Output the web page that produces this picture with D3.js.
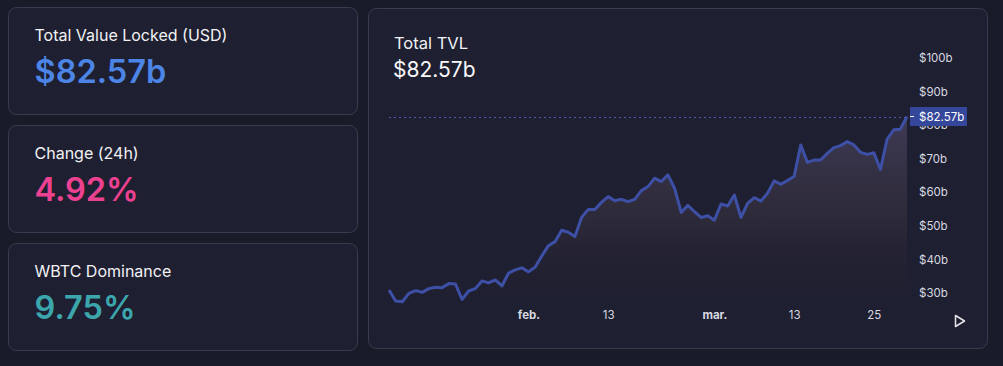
<!DOCTYPE html>
<html>
<head>
<meta charset="utf-8">
<script src="https://cdn.jsdelivr.net/npm/d3@7"></script>
<style>
  html, body { margin: 0; padding: 0; background: #1a1b28; }
  svg { display: block; font-family: Inter, "Noto Sans", sans-serif; }
</style>
</head>
<body>
<div id="chart"></div>
<script>
'use strict';

// daily TVL (USD, billions), 11 jan -> 30 mar
var startDate = new Date(2021, 0, 11);
var endDate = new Date(2021, 2, 30);
var tvlValues = [
  30.9, 27.6, 27.4, 29.9, 30.7, 30.2, 31.3, 31.7, 31.6, 32.8,
  32.7, 28.1, 30.6, 31.3, 33.6, 33.0, 33.9, 32.1, 35.9, 36.9,
  37.5, 36.3, 37.7, 41.0, 44.1, 45.3, 48.7, 48.1, 46.8, 52.5,
  54.9, 54.9, 57.0, 58.7, 57.5, 57.9, 57.2, 57.9, 60.5, 61.7,
  64.2, 63.2, 65.2, 61.2, 54.0, 56.1, 54.2, 52.5, 53.0, 51.7,
  56.5, 55.9, 59.2, 52.5, 56.7, 58.4, 57.4, 59.7, 63.4, 62.4,
  63.5, 64.7, 74.1, 68.9, 69.6, 69.6, 71.6, 73.3, 73.9, 75.1,
  74.1, 71.9, 71.3, 71.8, 66.8, 75.8, 78.6, 78.8, 82.57
];
var yTicks = [30, 40, 50, 60, 70, 80, 90, 100];
var xTickDates = [new Date(2021, 1, 1), new Date(2021, 1, 13), new Date(2021, 2, 1), new Date(2021, 2, 13), new Date(2021, 2, 25)];
var xTickLabels = ['feb.', '13', 'mar.', '13', '25'];

var statTitles = ['Total Value Locked (USD)', 'Change (24h)', 'WBTC Dominance'];
var statValues = ['$82.57b', '4.92%', '9.75%'];
var statColors = ['#4c85e6', '#ec4190', '#3ca6ad'];

var W = 1003, H = 366;
var fmtB = function(v) { return '$' + v + 'b'; };

var svg = d3.select('#chart').append('svg')
  .attr('width', W)
  .attr('height', H);

var defs = svg.append('defs');
var grad = defs.append('linearGradient')
  .attr('id', 'areaGrad')
  .attr('gradientUnits', 'userSpaceOnUse')
  .attr('x1', 0).attr('x2', 0)
  .attr('y1', 115).attr('y2', 300);
grad.append('stop').attr('offset', '0%').attr('stop-color', '#4a4463').attr('stop-opacity', 0.75);
grad.append('stop').attr('offset', '55%').attr('stop-color', '#3a3340').attr('stop-opacity', 0.55);
grad.append('stop').attr('offset', '100%').attr('stop-color', '#2a2330').attr('stop-opacity', 0);

svg.append('rect')
  .attr('width', W).attr('height', H)
  .attr('fill', '#1a1b28');

// stat cards
var cards = svg.selectAll('g.card')
  .data(statTitles)
  .enter()
  .append('g')
  .attr('class', 'card')
  .attr('transform', function(d, i) { return 'translate(8.5,' + (7.5 + i * 118) + ')'; });

cards.append('rect')
  .attr('width', 349).attr('height', 107)
  .attr('rx', 8)
  .attr('fill', '#1e1f30')
  .attr('stroke', '#393c50');

cards.append('text')
  .attr('x', 26).attr('y', 33)
  .attr('fill', '#f2f2f5')
  .attr('font-size', 16)
  .text(function(d) { return d; });

cards.append('text')
  .attr('x', 26).attr('y', 75.5)
  .attr('fill', function(d, i) { return statColors[i]; })
  .attr('font-size', 32.5)
  .attr('font-weight', 600)
  .text(function(d, i) { return statValues[i]; });

// chart panel
svg.append('rect')
  .attr('x', 368.5).attr('y', 8.5)
  .attr('width', 619).attr('height', 340)
  .attr('rx', 8)
  .attr('fill', '#1e1f30')
  .attr('stroke', '#393c50');

svg.append('text')
  .attr('x', 394).attr('y', 48.5)
  .attr('fill', '#f2f2f5')
  .attr('font-size', 16.5)
  .text('Total TVL');

svg.append('text')
  .attr('x', 393).attr('y', 77)
  .attr('fill', '#f7f7f9')
  .attr('font-size', 21)
  .text(fmtB(tvlValues[tvlValues.length - 1]));

var dates = d3.timeDay.range(startDate, d3.timeDay.offset(endDate, 1));
var data = dates.map(function(d, i) { return { date: d, value: tvlValues[i] }; });

var x = d3.scaleTime()
  .domain([startDate, endDate])
  .range([389, 907]);

var y = d3.scaleLinear()
  .domain([30, 100])
  .range([293, 58]);

var plotBottom = 300;

var area = d3.area()
  .x(function(d) { return x(d.date); })
  .y0(plotBottom)
  .y1(function(d) { return y(d.value); });

var line = d3.line()
  .x(function(d) { return x(d.date); })
  .y(function(d) { return y(d.value); });

svg.append('path')
  .datum(data)
  .attr('d', area)
  .attr('fill', 'url(#areaGrad)');

var last = data[data.length - 1];

svg.append('line')
  .attr('x1', 389).attr('x2', 909)
  .attr('y1', Math.round(y(last.value)) + 0.5)
  .attr('y2', Math.round(y(last.value)) + 0.5)
  .attr('stroke', '#4b5cb0')
  .attr('stroke-width', 1)
  .attr('stroke-dasharray', '2,3');

svg.append('path')
  .datum(data)
  .attr('d', line)
  .attr('fill', 'none')
  .attr('stroke', '#3d50a6')
  .attr('stroke-width', 3)
  .attr('stroke-linejoin', 'round');

// price axis
var yAxis = svg.append('g')
  .attr('transform', 'translate(909,0)')
  .call(d3.axisRight(y).tickValues(yTicks).tickSize(0).tickPadding(10).tickFormat(fmtB));
yAxis.select('.domain').remove();
yAxis.selectAll('text')
  .attr('fill', '#d8d9e0')
  .attr('font-size', 11.5)
  .attr('font-family', 'Inter, "Noto Sans", sans-serif');

// last value label
var lastY = y(last.value);
svg.append('rect')
  .attr('x', 910).attr('y', lastY - 9.5)
  .attr('width', 57).attr('height', 19)
  .attr('fill', '#35479a');
svg.append('line')
  .attr('x1', 910).attr('x2', 914)
  .attr('y1', lastY).attr('y2', lastY)
  .attr('stroke', '#ffffff');
svg.append('text')
  .attr('x', 919).attr('y', lastY)
  .attr('dy', '0.35em')
  .attr('fill', '#ffffff')
  .attr('font-size', 11.5)
  .text(fmtB(last.value));

// time axis
var xAxis = svg.append('g')
  .attr('transform', 'translate(0,311)')
  .call(d3.axisBottom(x).tickValues(xTickDates).tickSize(0).tickPadding(0)
    .tickFormat(function(d, i) { return xTickLabels[i]; }));
xAxis.select('.domain').remove();
xAxis.selectAll('text')
  .attr('fill', '#d8d9e0')
  .attr('font-size', 11.5)
  .attr('font-family', 'Inter, "Noto Sans", sans-serif')
  .attr('font-weight', function(d, i) { return xTickLabels[i].indexOf('.') > 0 ? 700 : 400; });

// play button
svg.append('path')
  .attr('d', 'M955.5,315.5 L964.5,321 L955.5,326.5 Z')
  .attr('fill', 'none')
  .attr('stroke', '#e6e6ea')
  .attr('stroke-width', 1.5)
  .attr('stroke-linejoin', 'round');
</script>
</body>
</html>
